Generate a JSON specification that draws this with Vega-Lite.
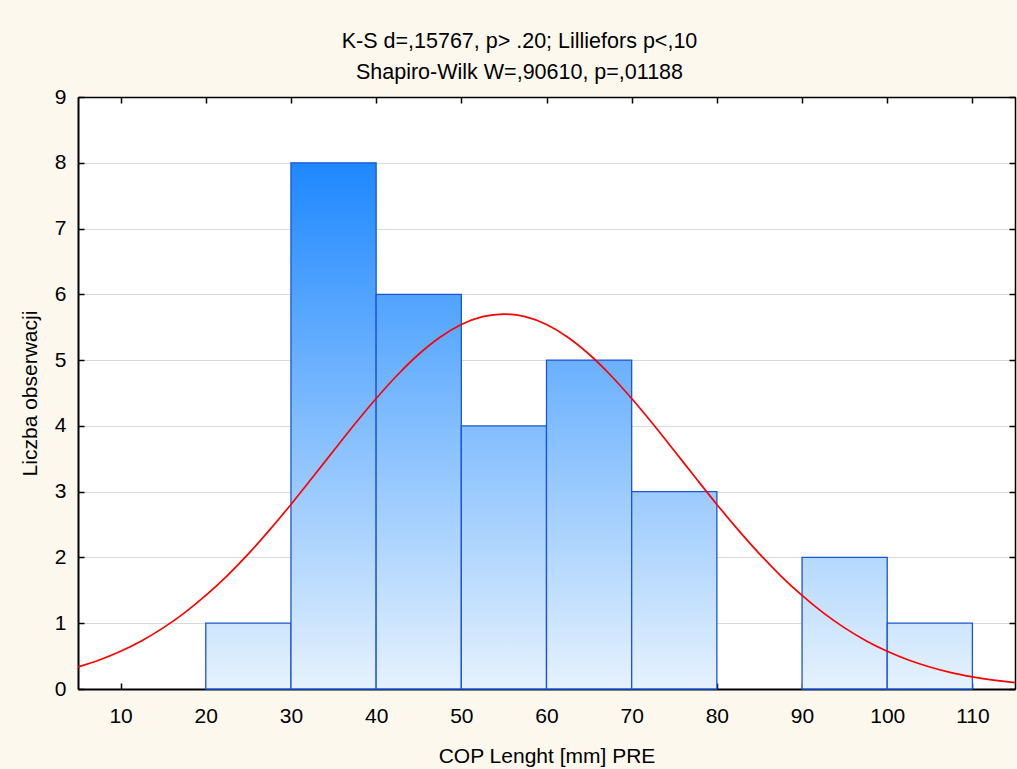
{
  "$schema": "https://vega.github.io/schema/vega-lite/v6.json",
  "width": 937,
  "height": 592,
  "autosize": {"type": "none"},
  "padding": {"left": 78, "top": 97, "right": 2, "bottom": 80},
  "background": "#FDF8EE",
  "config": {
    "view": {"fill": "white", "stroke": "#000", "strokeWidth": 1},
    "font": "Liberation Sans",
    "axis": {
      "labelFont": "Liberation Sans",
      "titleFont": "Liberation Sans",
      "labelFontSize": 21,
      "titleFontSize": 21,
      "titleFontWeight": "normal",
      "labelColor": "#000",
      "titleColor": "#000",
      "domainColor": "#000",
      "tickColor": "#000",
      "tickWidth": 1.5,
      "tickSize": -6
    }
  },
  "title": {
    "text": ["K-S d=,15767, p> .20; Lilliefors p<,10", "Shapiro-Wilk W=,90610, p=,01188"],
    "font": "Liberation Sans",
    "fontSize": 21.5,
    "fontWeight": "normal",
    "color": "#000",
    "lineHeight": 31,
    "anchor": "middle",
    "dx": -27,
    "offset": 3
  },
  "datasets": {
    "bins": [
      {"bin_start": 20, "bin_end": 30, "count": 1},
      {"bin_start": 30, "bin_end": 40, "count": 8},
      {"bin_start": 40, "bin_end": 50, "count": 6},
      {"bin_start": 50, "bin_end": 60, "count": 4},
      {"bin_start": 60, "bin_end": 70, "count": 5},
      {"bin_start": 70, "bin_end": 80, "count": 3},
      {"bin_start": 90, "bin_end": 100, "count": 2},
      {"bin_start": 100, "bin_end": 110, "count": 1}
    ],
    "curve": [
      {"x": 5, "y": 0.335}, {"x": 7.5, "y": 0.441}, {"x": 10, "y": 0.574}, {"x": 12.5, "y": 0.735},
      {"x": 15, "y": 0.929}, {"x": 17.5, "y": 1.157}, {"x": 20, "y": 1.422}, {"x": 22.5, "y": 1.721},
      {"x": 25, "y": 2.055}, {"x": 27.5, "y": 2.419}, {"x": 30, "y": 2.806}, {"x": 32.5, "y": 3.211},
      {"x": 35, "y": 3.622}, {"x": 37.5, "y": 4.028}, {"x": 40, "y": 4.416}, {"x": 42.5, "y": 4.774},
      {"x": 45, "y": 5.089}, {"x": 47.5, "y": 5.348}, {"x": 50, "y": 5.541}, {"x": 52.5, "y": 5.66},
      {"x": 55, "y": 5.7}, {"x": 57.5, "y": 5.66}, {"x": 60, "y": 5.541}, {"x": 62.5, "y": 5.348},
      {"x": 65, "y": 5.089}, {"x": 67.5, "y": 4.774}, {"x": 70, "y": 4.416}, {"x": 72.5, "y": 4.028},
      {"x": 75, "y": 3.622}, {"x": 77.5, "y": 3.211}, {"x": 80, "y": 2.806}, {"x": 82.5, "y": 2.419},
      {"x": 85, "y": 2.055}, {"x": 87.5, "y": 1.721}, {"x": 90, "y": 1.422}, {"x": 92.5, "y": 1.157},
      {"x": 95, "y": 0.929}, {"x": 97.5, "y": 0.735}, {"x": 100, "y": 0.574}, {"x": 102.5, "y": 0.441},
      {"x": 105, "y": 0.335}, {"x": 107.5, "y": 0.25}, {"x": 110, "y": 0.185}, {"x": 112.5, "y": 0.134},
      {"x": 115, "y": 0.096}
    ]
  },
  "resolve": {"axis": {"x": "independent", "y": "independent"}},
  "layer": [
    {
      "data": {"name": "bins"},
      "mark": {"type": "bar", "stroke": "#1A55D5", "strokeWidth": 1.3},
      "encoding": {
        "x": {
          "field": "bin_start", "type": "quantitative",
          "scale": {"domain": [5, 115], "nice": false, "zero": false},
          "axis": {
            "orient": "bottom",
            "values": [10, 20, 30, 40, 50, 60, 70, 80, 90, 100, 110],
            "title": "COP Lenght [mm] PRE",
            "grid": false,
            "domainWidth": 2,
            "labelPadding": 22,
            "titlePadding": 19
          }
        },
        "x2": {"field": "bin_end"},
        "y": {
          "field": "count", "type": "quantitative",
          "scale": {"domain": [0, 9], "nice": false},
          "axis": {
            "orient": "left",
            "values": [0, 1, 2, 3, 4, 5, 6, 7, 8, 9],
            "title": "Liczba obserwacji",
            "grid": true,
            "gridColor": "#D9D9D9",
            "gridWidth": 1.2,
            "domainWidth": 2,
            "labelPadding": 18,
            "titlePadding": 14
          }
        },
        "y2": {"datum": 0},
        "fill": {
          "condition": [
            {"test": "datum.count == 8", "value": {"gradient": "linear", "x1": 0, "y1": 0, "x2": 0, "y2": 1, "stops": [{"offset": 0, "color": "#1E88FF"}, {"offset": 1, "color": "#E6F2FD"}]}},
            {"test": "datum.count == 6", "value": {"gradient": "linear", "x1": 0, "y1": 0, "x2": 0, "y2": 1, "stops": [{"offset": 0, "color": "#50A3FF"}, {"offset": 1, "color": "#E6F2FD"}]}},
            {"test": "datum.count == 5", "value": {"gradient": "linear", "x1": 0, "y1": 0, "x2": 0, "y2": 1, "stops": [{"offset": 0, "color": "#69B0FE"}, {"offset": 1, "color": "#E6F2FD"}]}},
            {"test": "datum.count == 4", "value": {"gradient": "linear", "x1": 0, "y1": 0, "x2": 0, "y2": 1, "stops": [{"offset": 0, "color": "#82BDFE"}, {"offset": 1, "color": "#E6F2FD"}]}},
            {"test": "datum.count == 3", "value": {"gradient": "linear", "x1": 0, "y1": 0, "x2": 0, "y2": 1, "stops": [{"offset": 0, "color": "#9BCAFE"}, {"offset": 1, "color": "#E6F2FD"}]}},
            {"test": "datum.count == 2", "value": {"gradient": "linear", "x1": 0, "y1": 0, "x2": 0, "y2": 1, "stops": [{"offset": 0, "color": "#B4D8FE"}, {"offset": 1, "color": "#E6F2FD"}]}}
          ],
          "value": {"gradient": "linear", "x1": 0, "y1": 0, "x2": 0, "y2": 1, "stops": [{"offset": 0, "color": "#CDE5FD"}, {"offset": 1, "color": "#E6F2FD"}]}
        }
      }
    },
    {
      "data": {"name": "curve"},
      "mark": {"type": "line", "color": "#FF0000", "strokeWidth": 1.7, "interpolate": "monotone", "clip": true},
      "encoding": {
        "x": {
          "field": "x", "type": "quantitative",
          "axis": {
            "orient": "top",
            "values": [10, 20, 30, 40, 50, 60, 70, 80, 90, 100, 110],
            "labels": false,
            "title": null,
            "grid": false,
            "domainWidth": 1.5
          }
        },
        "y": {
          "field": "y", "type": "quantitative",
          "axis": {
            "orient": "right",
            "values": [0, 1, 2, 3, 4, 5, 6, 7, 8, 9],
            "labels": false,
            "title": null,
            "grid": false,
            "domainWidth": 1.5
          }
        }
      }
    }
  ]
}
